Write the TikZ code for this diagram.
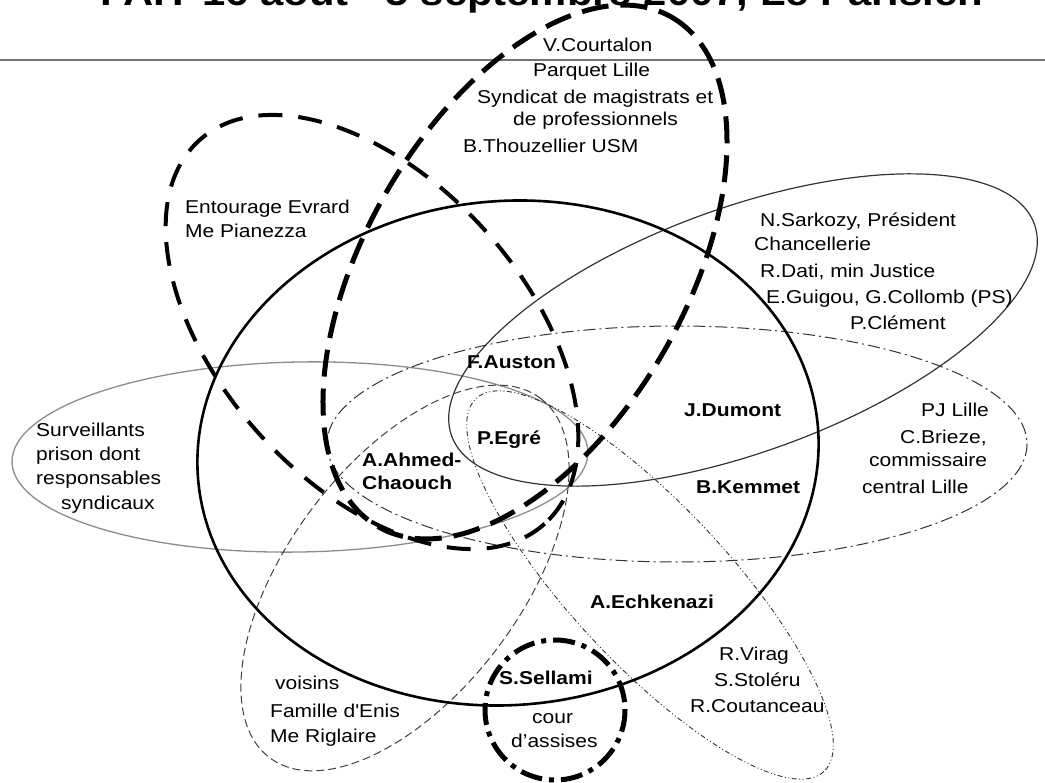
\documentclass[tikz,border=0pt]{standalone}
\usepackage{fontspec}
\setmainfont{Liberation Sans}[FakeStretch=1.13]
\begin{document}
\begin{tikzpicture}[x=1pt,y=-1pt,
  txt/.style={font=\fontsize{18.6}{25}\selectfont, inner sep=0pt, anchor=base west},
  btxt/.style={txt, font=\fontsize{18.6}{25}\selectfont\bfseries},
  setA/.style={line width=5pt, dash pattern=on 27pt off 12pt},
  setB/.style={line width=4pt, dash pattern=on 24pt off 16pt},
  setC/.style={line width=2.6pt},
  setD/.style={line width=1.2pt, draw=black!80},
  setPJ/.style={line width=1pt, draw=black!80, dash pattern=on 12pt off 4pt on 2pt off 4pt},
  setV/.style={line width=1pt, draw=black!75, dash pattern=on 8pt off 4pt},
  setVir/.style={line width=0.9pt, draw=black!80, dash pattern=on 5pt off 2.5pt on 1pt off 2.5pt on 1pt off 2.5pt},
  setS/.style={line width=1.3pt, draw=black!45},
  setCour/.style={line width=5pt, dash pattern=on 22pt off 7pt on 5pt off 7pt}
]
\useasboundingbox (0,0) rectangle (1045,783);

% title (cut off at top) and rule
\node[font=\fontsize{37}{40}\selectfont\bfseries, anchor=base west, inner sep=0pt] (title) at (100,5.5) {FAIT 16 août - 5 septembre 2007, Le Parisien};
\coordinate (hl) at (0,60);
\coordinate (hr) at (1045,60);
\draw[line width=1.5pt, black!55] (hl) -- (hr);

% sets
\draw[setS, rotate around={1:(300,457)}] (300,457) ellipse [x radius=288, y radius=95];
\draw[setD, rotate around={20:(743,330)}] (743,330) ellipse [x radius=310, y radius=122];
\draw[setPJ] (677,444) ellipse [x radius=350, y radius=118];
\draw[setV, rotate around={53:(405,578)}] (405,578) ellipse [x radius=225, y radius=116];
\draw[setVir, rotate around={-47:(650,585)}] (650,585) ellipse [x radius=255, y radius=79];
\draw[setC, rotate around={5:(508,453)}] (508,453) ellipse [x radius=311, y radius=252];
\draw[setB, rotate around={-48:(372,332)}] (372,332) ellipse [x radius=258, y radius=152];
\draw[setA, rotate around={60:(525,272)}] (525,272) ellipse [x radius=294, y radius=160];
\draw[setCour] (555,710) circle [radius=70];

% labels
\node[txt] (c1) at (543,51.5) {V.Courtalon};
\node[txt] (c2) at (533,76.5) {Parquet Lille};
\node[txt] (c3) at (477,103.5) {Syndicat de magistrats et};
\node[txt] (c4) at (513,126) {de professionnels};
\node[txt] (c5) at (463,152.5) {B.Thouzellier USM};

\node[txt] (e1) at (185,213.5) {Entourage Evrard};
\node[txt] (e2) at (185,237.5) {Me Pianezza};

\node[txt] (s1) at (760,226.5) {N.Sarkozy, Président};
\node[txt] (s2) at (754,250.5) {Chancellerie};
\node[txt] (s3) at (760,277.5) {R.Dati, min Justice};
\node[txt] (s4) at (766,303.5) {E.Guigou, G.Collomb (PS)};
\node[txt] (s5) at (850,329.5) {P.Clément};

\node[btxt] (auston) at (467,368.5) {F.Auston};
\node[btxt] (egre) at (477,444.5) {P.Egré};
\node[btxt] (ahmed1) at (362,466.5) {A.Ahmed-};
\node[btxt] (ahmed2) at (362,489.5) {Chaouch};
\node[btxt] (dumont) at (684,416.5) {J.Dumont};
\node[btxt] (kemmet) at (696,493.5) {B.Kemmet};
\node[btxt] (echk) at (590,608.5) {A.Echkenazi};
\node[btxt] (sellami) at (499,684.5) {S.Sellami};

\node[txt] (p1) at (921,416.5) {PJ Lille};
\node[txt] (p2) at (900,443.5) {C.Brieze,};
\node[txt] (p3) at (869,467) {commissaire};
\node[txt] (p4) at (862,493.5) {central Lille};

\node[txt] (u1) at (36,436.5) {Surveillants};
\node[txt] (u2) at (36,460.5) {prison dont};
\node[txt] (u3) at (36,485) {responsables};
\node[txt] (u4) at (61,510) {syndicaux};

\node[txt] (k1) at (532,723.5) {cour};
\node[txt] (k2) at (511,747) {d’assises};

\node[txt] (v1) at (275,689.5) {voisins};
\node[txt] (v2) at (270,717.5) {Famille d\textquotesingle Enis};
\node[txt] (v3) at (270,742.5) {Me Riglaire};

\node[txt] (r1) at (719,660.5) {R.Virag};
\node[txt] (r2) at (714,686.5) {S.Stoléru};
\node[txt] (r3) at (690,712.5) {R.Coutanceau};
\end{tikzpicture}
\end{document}
